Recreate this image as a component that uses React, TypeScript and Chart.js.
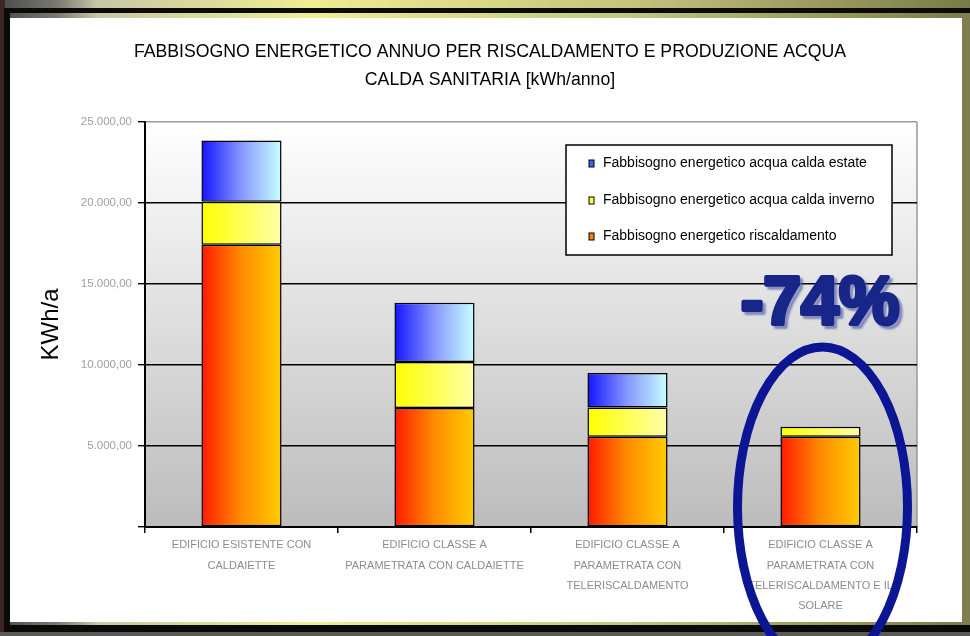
import React, { useEffect, useRef } from 'react';
import { Chart, registerables } from 'chart.js';

Chart.register(...registerables);

// ---------- data ----------
const categories: string[][] = [
  ['EDIFICIO ESISTENTE CON', 'CALDAIETTE'],
  ['EDIFICIO CLASSE A', 'PARAMETRATA CON CALDAIETTE'],
  ['EDIFICIO CLASSE A', 'PARAMETRATA CON', 'TELERISCALDAMENTO'],
  ['EDIFICIO CLASSE A', 'PARAMETRATA CON', 'TELERISCALDAMENTO E IL', 'SOLARE'],
];
const riscaldamento = [17430, 7350, 5570, 5570];
const acquaInverno = [2650, 2840, 1800, 620];
const acquaEstate: (number | null)[] = [3780, 3650, 2130, null];

const labelRiscaldamento = 'Fabbisogno energetico riscaldamento';
const labelInverno = 'Fabbisogno energetico acqua calda inverno';
const labelEstate = 'Fabbisogno energetico acqua calda estate';

const titleLines = [
  'FABBISOGNO ENERGETICO ANNUO PER RISCALDAMENTO E PRODUZIONE ACQUA',
  'CALDA SANITARIA [kWh/anno]',
];
const yAxisTitle = 'KWh/a';
const yMin = 0;
const yMax = 25000;
const yStep = 5000;
const highlightText = '-74%';

// ---------- styling helpers ----------
const BAR_PCT = 0.415;
const FONT = '"Liberation Sans", Arial, sans-serif';

function formatIt(v: number): string {
  if (v === 0) return '';
  const int = Math.round(v).toString().replace(/\B(?=(\d{3})+(?!\d))/g, '.');
  return int + ',00';
}

const makeFill = (stops: [number, string][], fallback: string) => (ctx: any) => {
  const chart = ctx.chart;
  const xs = chart.scales && chart.scales.x;
  if (!xs || ctx.dataIndex == null || !chart.chartArea || !xs.width) return fallback;
  const center = xs.getPixelForValue(ctx.dataIndex);
  const half = ((xs.width / categories.length) * BAR_PCT) / 2;
  const g = chart.ctx.createLinearGradient(center - half, 0, center + half, 0);
  stops.forEach(([o, c]) => g.addColorStop(o, c));
  return g;
};

const redStops: [number, string][] = [[0, '#ff1a00'], [0.5, '#ff8c00'], [1, '#ffcc00']];
const yellowStops: [number, string][] = [[0, '#ffff00'], [1, '#ffffa8']];
const blueStops: [number, string][] = [[0, '#1414ff'], [0.5, '#8898ff'], [1, '#c8ffff']];

const framePlugin = {
  id: 'frame',
  beforeDraw(chart: any) {
    const c = chart.ctx as CanvasRenderingContext2D;
    const W = chart.width;
    const H = chart.height;
    c.save();
    const g = c.createLinearGradient(0, 0, W, 0);
    g.addColorStop(0, '#4a4a48');
    g.addColorStop(0.06, '#7c7a72');
    g.addColorStop(0.1, '#c8c6a6');
    g.addColorStop(0.32, '#eeee92');
    g.addColorStop(0.65, '#c4c47e');
    g.addColorStop(1, '#7a7a48');
    c.fillStyle = g;
    c.fillRect(0, 0, W, H);
    c.fillStyle = '#3a2622';
    c.fillRect(0, 0, 5, H);
    c.fillStyle = '#7e7e4e';
    c.fillRect(W - 10, 12, 10, H);
    c.fillStyle = '#5a5a54';
    c.fillRect(0, 632, W, H - 632);
    // black frame
    c.fillStyle = '#0a0a0a';
    c.fillRect(4, 8, W - 4, 5);
    c.fillRect(4, 8, 6, 624);
    c.fillRect(4, 625, W - 4, 7);
    // white panel
    c.fillStyle = '#ffffff';
    c.fillRect(10, 18, 952, 604);
    // plot area gradient
    const a = chart.chartArea;
    const pg = c.createLinearGradient(0, a.top, 0, a.bottom);
    pg.addColorStop(0, '#ffffff');
    pg.addColorStop(1, '#bcbcbc');
    c.fillStyle = pg;
    c.fillRect(a.left, a.top, a.right - a.left, a.bottom - a.top);
    c.strokeStyle = '#9a9a9a';
    c.lineWidth = 1.5;
    c.beginPath();
    c.moveTo(a.right, a.top);
    c.lineTo(a.right, a.bottom);
    c.stroke();
    c.restore();
  },
};

const overlayPlugin = {
  id: 'overlay',
  afterDatasetsDraw(chart: any) {
    const c = chart.ctx as CanvasRenderingContext2D;
    c.save();
    // legend box
    const bx = 566, by = 145, bw = 326, bh = 110;
    c.fillStyle = '#ffffff';
    c.fillRect(bx, by, bw, bh);
    c.strokeStyle = '#000000';
    c.lineWidth = 1.5;
    c.strokeRect(bx, by, bw, bh);
    const items = [2, 1, 0];
    const rows = [163, 200, 236];
    c.font = `14px ${FONT}`;
    c.textBaseline = 'middle';
    c.textAlign = 'left';
    items.forEach((di, i) => {
      const ds = chart.data.datasets[di];
      const y = rows[i];
      c.fillStyle = ds.legendColor;
      c.fillRect(589, y - 3, 5, 7);
      c.strokeStyle = '#000';
      c.lineWidth = 1;
      c.strokeRect(589, y - 3, 5, 7);
      c.fillStyle = '#000';
      c.fillText(ds.label, 603, y);
    });
    c.restore();
  },
  afterDraw(chart: any) {
    const c = chart.ctx as CanvasRenderingContext2D;
    c.save();
    // title
    c.fillStyle = '#000';
    c.font = `17.7px ${FONT}`;
    c.textAlign = 'center';
    c.textBaseline = 'middle';
    c.fillText(titleLines[0], 490, 52);
    c.fillText(titleLines[1], 490, 80);
    // highlight text
    c.font = `bold 68px ${FONT}`;
    c.textBaseline = 'alphabetic';
    c.lineJoin = 'round';
    c.shadowColor = 'rgba(90,100,170,0.7)';
    c.shadowOffsetX = 3;
    c.shadowOffsetY = 3;
    c.shadowBlur = 2;
    c.fillStyle = '#18268a';
    c.strokeStyle = '#18268a';
    c.lineWidth = 4;
    c.strokeText(highlightText, 820, 324);
    c.shadowColor = 'transparent';
    c.fillText(highlightText, 820, 324);
    // ellipse around last bar
    const xs = chart.scales.x;
    const cx = xs.getPixelForValue(categories.length - 1) + 2;
    c.strokeStyle = '#0c1694';
    c.lineWidth = 9;
    c.beginPath();
    c.ellipse(cx, 507, 85, 160, 0, 0, Math.PI * 2);
    c.stroke();
    c.restore();
  },
};

export default function App() {
  const ref = useRef<HTMLCanvasElement | null>(null);

  useEffect(() => {
    if (!ref.current) return;
    const chart = new Chart(ref.current, {
      type: 'bar',
      data: {
        labels: categories,
        datasets: [
          {
            label: labelRiscaldamento,
            data: riscaldamento,
            backgroundColor: makeFill(redStops, '#ff8000'),
            legendColor: '#ff8000',
            borderColor: '#000',
            borderWidth: 1.5,
            borderSkipped: false,
          } as any,
          {
            label: labelInverno,
            data: acquaInverno,
            backgroundColor: makeFill(yellowStops, '#ffff40'),
            legendColor: '#ffff40',
            borderColor: '#000',
            borderWidth: 1.5,
            borderSkipped: false,
          } as any,
          {
            label: labelEstate,
            data: acquaEstate,
            backgroundColor: makeFill(blueStops, '#4060ff'),
            legendColor: '#4060ff',
            borderColor: '#000',
            borderWidth: 1.5,
            borderSkipped: false,
          } as any,
        ],
      },
      options: {
        responsive: false,
        animation: false,
        devicePixelRatio: 1,
        layout: { padding: { left: 0, right: 53, top: 122, bottom: 0 } },
        datasets: { bar: { categoryPercentage: 1, barPercentage: BAR_PCT } },
        plugins: {
          legend: { display: false },
          title: { display: false },
          tooltip: { enabled: false },
        },
        scales: {
          x: {
            stacked: true,
            afterFit: (s: any) => { s.height = 109; },
            grid: {
              drawOnChartArea: false,
              drawTicks: true,
              tickLength: 6,
              color: '#000',
              lineWidth: 1.5,
              offset: true,
            },
            border: { display: true, color: '#000', width: 2 },
            ticks: {
              color: '#8c8c8c',
              padding: 2,
              maxRotation: 0,
              autoSkip: false,
              font: { family: FONT, size: 11, lineHeight: 1.85 },
            },
          },
          y: {
            stacked: true,
            min: yMin,
            max: yMax,
            afterFit: (s: any) => { s.width = 145; },
            grid: {
              color: (ctx: any) => (ctx.tick && ctx.tick.value === yMax ? '#9a9a9a' : '#000'),
              tickColor: '#000',
              lineWidth: 1.4,
              tickLength: 7,
              drawTicks: true,
            },
            border: { display: true, color: '#000', width: 2 },
            ticks: {
              stepSize: yStep,
              color: '#a0a0a0',
              padding: 6,
              font: { family: FONT, size: 11.5 },
              callback: (v: any) => formatIt(Number(v)),
            },
            title: {
              display: true,
              text: yAxisTitle,
              color: '#000',
              font: { family: FONT, size: 24 },
              padding: { top: 37, bottom: 0 },
            },
          },
        },
      },
      plugins: [framePlugin, overlayPlugin],
    } as any);
    return () => chart.destroy();
  }, []);

  return (
    <div style={{ position: 'fixed', left: 0, top: 0, width: 970, height: 636, overflow: 'hidden' }}>
      <canvas ref={ref} width={970} height={636} style={{ display: 'block', width: 970, height: 636 }} />
    </div>
  );
}
